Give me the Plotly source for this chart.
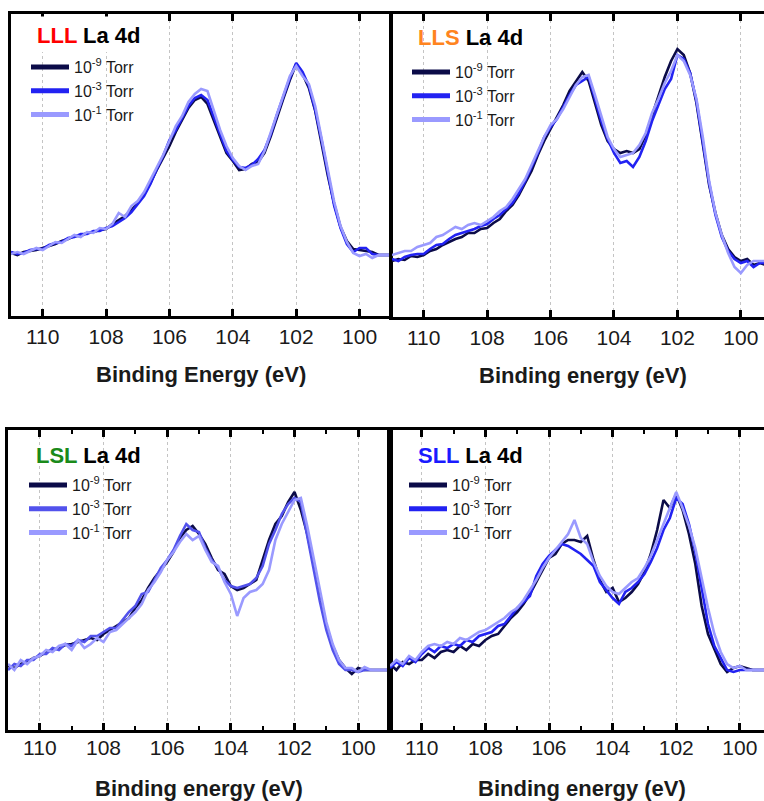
import plotly.graph_objects as go

# Binding energy grid (eV), 111.0 -> 99.0 in 0.2 eV steps
energy = [round(111.0 - 0.2 * i, 1) for i in range(61)]

pressures = ["10<sup>-9</sup> Torr", "10<sup>-3</sup> Torr", "10<sup>-1</sup> Torr"]

# ---------- LLL ----------
lll_e9 = [63, 61, 64, 65, 66, 68, 70, 72, 75, 77, 80, 80, 83, 84, 86, 87, 92, 96, 100, 106,
          113, 122, 133, 146, 158, 170, 184, 196, 208, 216, 219, 212, 196, 178, 163, 155, 146, 147, 152, 154,
          163, 180, 200, 218, 236, 252, 242, 228, 205, 172, 140, 112, 89, 75, 67, 66, 65, 64, 61, 61, 61]
lll_e3 = [64, 62, 63, 66, 67, 67, 71, 73, 74, 78, 79, 82, 82, 85, 85, 88, 90, 94, 98, 104,
          112, 120, 132, 147, 160, 176, 186, 198, 210, 218, 221, 216, 200, 182, 165, 156, 149, 148, 151, 157,
          166, 182, 202, 220, 238, 253, 244, 230, 206, 176, 142, 110, 88, 72, 64, 68, 68, 62, 61, 61, 61]
lll_e1 = [62, 64, 62, 65, 68, 66, 70, 74, 73, 77, 81, 79, 84, 83, 88, 87, 92, 103, 99, 110,
          115, 124, 136, 148, 161, 175, 190, 200, 214, 222, 227, 225, 206, 186, 170, 158, 150, 146, 150, 152,
          165, 184, 203, 222, 240, 250, 240, 232, 210, 178, 145, 114, 90, 74, 63, 60, 62, 58, 61, 61, 61]

# ---------- LLS ----------
lls_e9 = [56, 58, 57, 61, 60, 62, 66, 68, 72, 75, 78, 80, 84, 84, 88, 89, 94, 98, 106, 112,
          122, 134, 146, 162, 176, 188, 200, 212, 226, 236, 245, 236, 214, 192, 176, 168, 164, 166, 164, 168,
          182, 202, 220, 240, 256, 268, 262, 244, 214, 172, 132, 104, 82, 68, 60, 56, 58, 52, 54, 52, 52]
lls_e3 = [58, 56, 60, 62, 63, 63, 68, 72, 73, 78, 82, 84, 86, 88, 91, 93, 98, 102, 108, 114,
          124, 136, 150, 164, 180, 190, 198, 210, 222, 232, 236, 240, 218, 196, 178, 164, 154, 156, 150, 160,
          176, 196, 212, 228, 238, 262, 258, 244, 216, 176, 134, 102, 80, 66, 58, 54, 56, 50, 54, 54, 54]
lls_e1 = [62, 64, 66, 66, 70, 72, 74, 80, 82, 86, 90, 88, 92, 94, 92, 96, 100, 106, 110, 118,
          128, 138, 152, 166, 180, 192, 198, 208, 220, 232, 240, 242, 222, 200, 180, 168, 160, 162, 164, 172,
          184, 204, 218, 234, 246, 262, 256, 242, 218, 180, 136, 104, 82, 64, 50, 44, 52, 56, 56, 56, 56]

# ---------- LSL ----------
lsl_e9 = [64, 62, 66, 68, 72, 74, 78, 80, 82, 85, 86, 88, 90, 92, 90, 96, 100, 104, 108, 112,
          122, 130, 142, 152, 160, 168, 178, 192, 200, 204, 196, 186, 172, 160, 156, 144, 140, 142, 146, 150,
          170, 190, 206, 214, 228, 238, 220, 196, 166, 132, 104, 84, 70, 62, 56, 62, 60, 60, 60, 60, 60]
lsl_e3 = [60, 66, 64, 70, 70, 76, 76, 82, 80, 86, 84, 90, 88, 94, 94, 98, 102, 102, 110, 118,
          124, 136, 138, 150, 162, 170, 180, 194, 206, 200, 198, 182, 170, 162, 150, 144, 142, 144, 146, 152,
          164, 186, 200, 216, 226, 232, 228, 194, 160, 128, 100, 80, 66, 60, 60, 58, 60, 60, 60, 60, 60]
lsl_e1 = [66, 60, 70, 66, 72, 74, 80, 78, 84, 86, 80, 90, 82, 86, 92, 88, 98, 100, 106, 112,
          118, 126, 140, 148, 158, 170, 178, 188, 196, 190, 194, 180, 168, 164, 148, 136, 114, 132, 138, 140,
          146, 160, 190, 206, 218, 230, 232, 204, 172, 140, 108, 86, 70, 62, 62, 58, 63, 60, 60, 60, 60]

# ---------- SLL ----------
sll_e9 = [66, 60, 68, 66, 70, 70, 76, 72, 78, 80, 78, 84, 80, 86, 84, 90, 94, 96, 104, 112,
          118, 126, 136, 148, 160, 172, 176, 186, 190, 190, 188, 194, 170, 150, 138, 142, 128, 132, 138, 146,
          158, 176, 200, 230, 222, 236, 220, 196, 166, 124, 96, 80, 66, 58, 62, 64, 62, 60, 60, 60, 60]
sll_e3 = [62, 68, 64, 72, 68, 76, 82, 78, 84, 82, 86, 84, 90, 88, 94, 96, 98, 104, 106, 114,
          122, 128, 134, 154, 166, 174, 180, 186, 184, 180, 176, 170, 164, 148, 140, 132, 126, 138, 142, 148,
          156, 168, 182, 200, 212, 232, 226, 206, 178, 140, 106, 84, 72, 60, 58, 60, 60, 60, 60, 60, 60]
sll_e1 = [64, 70, 66, 74, 70, 78, 84, 86, 84, 88, 86, 92, 90, 94, 98, 100, 104, 108, 112, 118,
          122, 130, 140, 150, 162, 172, 180, 188, 196, 210, 192, 186, 168, 154, 144, 138, 136, 142, 148, 152,
          162, 174, 190, 206, 222, 238, 222, 204, 182, 152, 122, 96, 78, 66, 62, 64, 60, 60, 60, 60, 60]

W, H = 764, 801
FONT = "Liberation Sans, Arial, sans-serif"


def px(x):
    return x / W


def py(y):
    return 1 - y / H


panels = [
    dict(tag="LLL", tcol="#ff0000", data=[lll_e9, lll_e3, lll_e1],
         cols=["#0b0b48", "#2222f2", "#9a9aff"], xs=(11, 390), ys=(14, 316),
         xr=[111, 99.04], minor=False, title="Binding Energy (eV)", right=True,
         leg=(26, 50), head=(35, 35), stand=0),
    dict(tag="LLS", tcol="#ff8420", data=[lls_e9, lls_e3, lls_e1],
         cols=["#0b0b48", "#2222f2", "#9a9aff"], xs=(392, 764), ys=(14, 317),
         xr=[111, 99.27], minor=False, title="Binding energy (eV)", right=False,
         leg=(407, 55), head=(416, 37), stand=0),
    dict(tag="LSL", tcol="#1a8a1a", data=[lsl_e9, lsl_e3, lsl_e1],
         cols=["#0b0b48", "#5252ec", "#9a9aff"], xs=(8, 390), ys=(430, 730),
         xr=[111, 99.0], minor=True, title="Binding energy (eV)", right=True,
         leg=(24, 468), head=(34, 455), stand=-3),
    dict(tag="SLL", tcol="#1a1aff", data=[sll_e9, sll_e3, sll_e1],
         cols=["#0b0b48", "#2222f2", "#9a9aff"], xs=(390, 764), ys=(430, 730),
         xr=[111, 99.24], minor=True, title="Binding energy (eV)", right=False,
         leg=(404, 468), head=(416, 455), stand=-3),
]

fig = go.Figure()
annotations = []
shapes = []

for i, p in enumerate(panels):
    n = "" if i == 0 else str(i + 1)
    xa, ya = "x" + n, "y" + n
    leg = "legend" + n
    for k in range(3):
        fig.add_trace(go.Scatter(
            x=energy, y=p["data"][k], mode="lines", name=pressures[k],
            line=dict(color=p["cols"][k], width=2.6),
            xaxis=xa, yaxis=ya, legend=leg, showlegend=True))

    x0, x1 = p["xs"]
    y0, y1 = p["ys"]
    xaxis = dict(
        domain=[px(x0), min(px(x1), 1.0)], range=p["xr"], anchor=ya,
        showline=True, linecolor="black", linewidth=2.5, mirror="ticks",
        ticks="inside", ticklen=7, tickwidth=2.5, tickcolor="black",
        tick0=100, dtick=2, showgrid=True, gridcolor="#c4c4c4", griddash="dot",
        gridwidth=1, zeroline=False,
        tickfont=dict(family=FONT, size=21, color="#1a1a1a"),
        ticklabelstandoff=p["stand"],
    )
    if p["minor"]:
        xaxis["minor"] = dict(dtick=1, tick0=100, ticks="inside", ticklen=4,
                              tickwidth=2, tickcolor="black", showgrid=False)
    yaxis = dict(
        domain=[py(y1), py(y0)], range=[0, y1 - y0], anchor=xa,
        showline=True, linecolor="black", linewidth=2.5, mirror=p["right"],
        showticklabels=False, ticks="", showgrid=False, zeroline=False,
    )
    fig.update_layout(**{"xaxis" + n: xaxis, "yaxis" + n: yaxis})

    lx, ly = p["leg"]
    fig.update_layout(**{leg: dict(
        x=px(lx), y=py(ly), xanchor="left", yanchor="top",
        bgcolor="rgba(0,0,0,0)", borderwidth=0,
        font=dict(family=FONT, size=16, color="#1a1a1a"),
        tracegroupgap=0, itemwidth=38, itemsizing="constant",
    )})

    shapes.append(dict(type="rect", xref="paper", yref="paper",
                       x0=px(x0 + 2), x1=px(x0 + 152), y0=py(y0 + 38), y1=py(y0 + 2.5),
                       fillcolor="white", line=dict(width=0),
                       layer="above" if i == 0 else "between"))
    hx, hy = p["head"]
    annotations.append(dict(
        xref="paper", yref="paper", x=px(hx), y=py(hy), xanchor="left", yanchor="middle",
        showarrow=False,
        text="<b><span style='color:%s'>%s</span> La 4d</b>" % (p["tcol"], p["tag"]),
        font=dict(family=FONT, size=22, color="black")))
    annotations.append(dict(
        xref="paper", yref="paper", x=px((x0 + min(x1, 764)) / 2 if p["right"] else (x0 + 764 + 10) / 2),
        y=py(y1 + 58), xanchor="center", yanchor="middle", showarrow=False,
        text="<b>%s</b>" % p["title"],
        font=dict(family=FONT, size=22, color="#1a1a1a")))

fig.update_layout(
    width=W, height=H, margin=dict(l=0, r=0, t=0, b=0),
    paper_bgcolor="white", plot_bgcolor="white",
    annotations=annotations, shapes=shapes, showlegend=True,
)

fig.write_html("out.html")
